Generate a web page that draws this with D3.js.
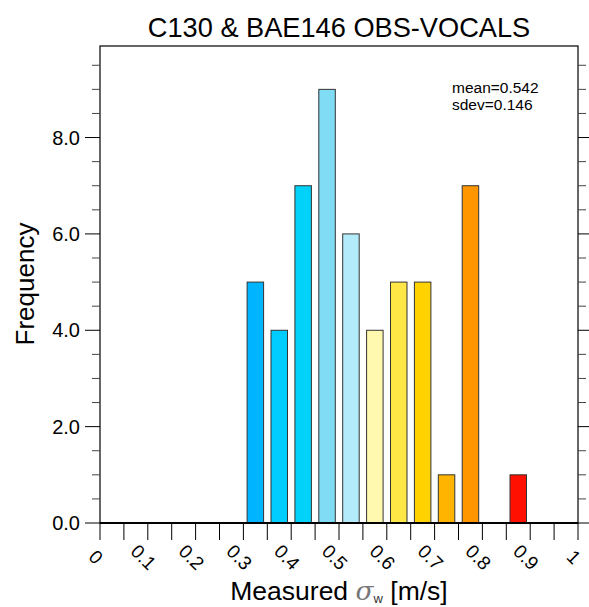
<!DOCTYPE html>
<html><head><meta charset="utf-8">
<script src="https://cdn.jsdelivr.net/npm/d3@7"></script>
<style>body{margin:0;background:#fff}svg{display:block}text{font-family:"Liberation Sans",Arial,Helvetica,sans-serif}</style>
</head><body><svg id="c" width="589" height="607"></svg>
<script>
const binStart = [0,0.05,0.1,0.15,0.2,0.25,0.3,0.35,0.4,0.45,0.5,0.55,0.6,0.65,0.7,0.75,0.8,0.85,0.9,0.95];
const counts   = [0,0,0,0,0,0,5,4,7,9,6,4,5,5,1,7,0,1,0,0];
const barColors = ["#00b4ff","#00b4ff","#00b4ff","#00b4ff","#00b4ff","#00b4ff",
  "#00b4ff","#00cdff","#00d2fa","#80dcf5","#b4ebfa","#fff8af","#ffe846","#ffd200","#ffb400","#ff9600","#ff4000","#ff1000","#ff0000","#ff0000"];
const xTickVals = [0,0.05,0.1,0.15,0.2,0.25,0.3,0.35,0.4,0.45,0.5,0.55,0.6,0.65,0.7,0.75,0.8,0.85,0.9,0.95,1];
const xLabelVals = [0,0.1,0.2,0.3,0.4,0.5,0.6,0.7,0.8,0.9,1];
const xLabels = ["0","0.1","0.2","0.3","0.4","0.5","0.6","0.7","0.8","0.9","1"];
const yMajor = [0,2,4,6,8];
const yLabels = ["0.0","2.0","4.0","6.0","8.0"];
const yMinor = [0.5,1,1.5,2.5,3,3.5,4.5,5,5.5,6.5,7,7.5,8.5,9,9.5];
const binWidth = 0.05, yMax = 9.9;
const title = "C130 & BAE146 OBS-VOCALS";
const stats = ["mean=0.542","sdev=0.146"];

const svg = d3.select("#c");
const L=100,R=578,T=46,B=523;
const x = d3.scaleLinear().domain([0,1]).range([L,R]);
const y = d3.scaleLinear().domain([0,yMax]).range([B,T]);

// bars
const bw = (x(binWidth)-x(0))*0.69;
svg.append("g").selectAll("rect").data(binStart.map((s,i)=>({s,c:counts[i],col:barColors[i]})).filter(d=>d.c>0))
  .join("rect")
  .attr("x",d=>x(d.s+binWidth/2)-bw/2).attr("width",bw)
  .attr("y",d=>y(d.c)).attr("height",d=>y(0)-y(d.c))
  .attr("fill",d=>d.col).attr("stroke","#333").attr("stroke-width",1);

// frame
svg.append("rect").attr("x",L).attr("y",T).attr("width",R-L).attr("height",B-T)
  .attr("fill","none").attr("stroke","#000").attr("stroke-width",1.2);
svg.append("line").attr("x1",L).attr("x2",R).attr("y1",B).attr("y2",B).attr("stroke","#000").attr("stroke-width",2.2);

// left axis
const gl = svg.append("g");
gl.selectAll("line.maj").data(yMajor).join("line").attr("x1",L-15).attr("x2",L).attr("y1",d=>y(d)).attr("y2",d=>y(d)).attr("stroke","#000").attr("stroke-width",1);
gl.selectAll("line.min").data(yMinor).join("line").attr("class","min").attr("x1",L-8).attr("x2",L).attr("y1",d=>y(d)).attr("y2",d=>y(d)).attr("stroke","#444").attr("stroke-width",1);
gl.selectAll("text").data(yMajor).join("text").attr("x",L-20).attr("y",d=>y(d)).attr("dy","0.36em")
  .attr("text-anchor","end").attr("font-size",20).text((d,i)=>yLabels[i]);
// right axis
const gr = svg.append("g");
gr.selectAll("line.maj").data(yMajor).join("line").attr("x1",R).attr("x2",R+15).attr("y1",d=>y(d)).attr("y2",d=>y(d)).attr("stroke","#000").attr("stroke-width",1);
gr.selectAll("line.min").data(yMinor).join("line").attr("class","min").attr("x1",R).attr("x2",R+8).attr("y1",d=>y(d)).attr("y2",d=>y(d)).attr("stroke","#444").attr("stroke-width",1);

// bottom axis
const gb = svg.append("g");
gb.selectAll("line").data(xTickVals).join("line").attr("x1",d=>x(d)).attr("x2",d=>x(d)).attr("y1",B).attr("y2",B+17).attr("stroke","#000").attr("stroke-width",1);
gb.selectAll("text").data(xLabelVals).join("text")
  .attr("transform",d=>`translate(${x(d)-4},557) rotate(45)`)
  .attr("text-anchor","middle").attr("dy","0.36em").attr("font-size",19).text((d,i)=>xLabels[i]);

// title
svg.append("text").attr("x",(L+R)/2).attr("y",37).attr("text-anchor","middle").attr("font-size",27.2).text(title);
// y label
svg.append("text").attr("transform",`translate(34,284) rotate(-90)`).attr("text-anchor","middle").attr("font-size",26).text("Frequency");
// x label
const xl = svg.append("text").attr("x",(L+R)/2).attr("y",600).attr("text-anchor","middle").attr("font-size",26.5);
xl.append("tspan").text("Measured ");
xl.append("tspan").attr("font-family","DejaVu Serif").attr("font-style","italic").attr("fill","#777").text("σ");
xl.append("tspan").attr("font-size",13).attr("dy",3).attr("fill","#333").text("w");
xl.append("tspan").attr("dy",-3).text(" [m/s]");
// stats
svg.selectAll("text.st").data(stats).join("text").attr("class","st").attr("x",452).attr("y",(d,i)=>93+i*17)
  .attr("font-size",15.5).text(d=>d);
</script></body></html>
